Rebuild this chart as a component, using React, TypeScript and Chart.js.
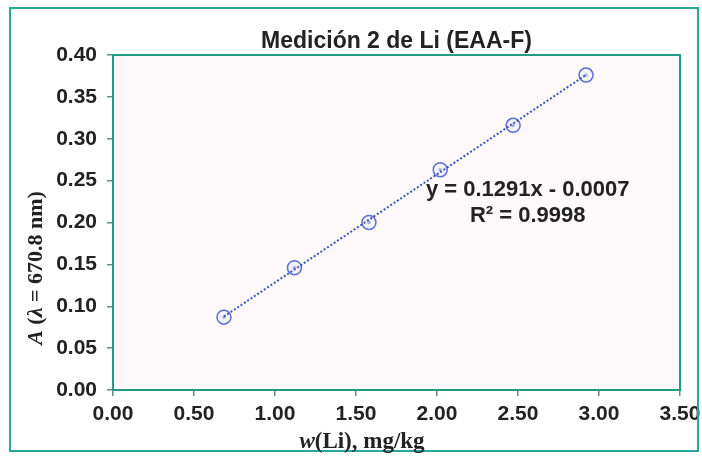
import React, { useEffect, useRef } from "react";
import { Chart, registerables } from "chart.js";

Chart.register(...registerables);

const concentrations = [0.685, 1.12, 1.58, 2.02, 2.47, 2.92];
const absorbances = [0.087, 0.146, 0.2, 0.263, 0.316, 0.376];
const slope = 0.1291;
const intercept = -0.0007;
const chartTitle = "Medición 2 de Li (EAA-F)";
const equationLines = ["y = 0.1291x - 0.0007", "R² = 0.9998"];

const teal = "#1f9c84";
const tickFont = { family: "'Liberation Sans', Arial, sans-serif", size: 21, weight: "bold" as const };

const decorPlugin = {
  id: "decor",
  beforeDraw(chart: any) {
    const { ctx, chartArea: a } = chart;
    ctx.save();
    ctx.fillStyle = "#ffffff";
    ctx.fillRect(0, 0, chart.width, chart.height);
    ctx.fillStyle = "#fdf8fa";
    ctx.fillRect(a.left, a.top, a.right - a.left, a.bottom - a.top);
    ctx.restore();
  },
  afterDraw(chart: any) {
    const { ctx, chartArea: a, scales } = chart;
    ctx.save();
    // outer frame
    ctx.strokeStyle = "#27a898";
    ctx.lineWidth = 2;
    ctx.strokeRect(10, 8, 688, 443);
    // plot box
    ctx.strokeStyle = teal;
    ctx.lineWidth = 2;
    ctx.strokeRect(a.left, a.top, a.right - a.left, a.bottom - a.top);
    // title
    ctx.fillStyle = "#222";
    ctx.textAlign = "center";
    ctx.textBaseline = "alphabetic";
    ctx.font = "bold 23px 'Liberation Sans', Arial, sans-serif";
    ctx.fillText(chartTitle, (a.left + a.right) / 2, 48);
    // equation
    const ex = scales.x.getPixelForValue(2.56);
    const ey = scales.y.getPixelForValue(0.2);
    ctx.font = "bold 22px 'Liberation Sans', Arial, sans-serif";
    ctx.fillText(equationLines[0], ex, ey - 27);
    ctx.fillText(equationLines[1], ex, ey - 1);
    // x axis title with italic w
    ctx.textAlign = "left";
    const xParts = [
      { t: "w", f: "italic bold 23px 'Liberation Serif', 'Times New Roman', serif" },
      { t: "(Li), mg/kg", f: "bold 23px 'Liberation Serif', 'Times New Roman', serif" },
    ];
    let total = 0;
    xParts.forEach((p) => { ctx.font = p.f; total += ctx.measureText(p.t).width; });
    let x = 362 - total / 2;
    xParts.forEach((p) => { ctx.font = p.f; ctx.fillText(p.t, x, 448); x += ctx.measureText(p.t).width; });
    // y axis title rotated
    ctx.translate(42, 268);
    ctx.rotate(-Math.PI / 2);
    const yParts = [
      { t: "A", f: "italic bold 22px 'Liberation Serif', 'Times New Roman', serif" },
      { t: " (", f: "bold 22px 'Liberation Serif', 'Times New Roman', serif" },
      { t: "λ", f: "italic bold 22px 'Liberation Serif', 'Times New Roman', serif" },
      { t: " = 670.8 nm)", f: "bold 22px 'Liberation Serif', 'Times New Roman', serif" },
    ];
    total = 0;
    yParts.forEach((p) => { ctx.font = p.f; total += ctx.measureText(p.t).width; });
    x = -total / 2;
    yParts.forEach((p) => { ctx.font = p.f; ctx.fillText(p.t, x, 0); x += ctx.measureText(p.t).width; });
    ctx.restore();
  },
};

export default function App() {
  const ref = useRef<HTMLCanvasElement | null>(null);
  useEffect(() => {
    if (!ref.current) return;
    const points = concentrations.map((c, i) => ({ x: c, y: absorbances[i] }));
    const x0 = concentrations[0];
    const x1 = concentrations[concentrations.length - 1];
    const trend = [
      { x: x0, y: slope * x0 + intercept },
      { x: x1, y: slope * x1 + intercept },
    ];
    const chart = new Chart(ref.current, {
      type: "scatter",
      data: {
        datasets: [
          {
            type: "line",
            data: trend,
            borderColor: "#3a55b8",
            borderWidth: 2,
            borderDash: [2, 2],
            pointRadius: 0,
            fill: false,
          } as any,
          {
            data: points,
            pointRadius: 7,
            pointBorderWidth: 1.5,
            pointBorderColor: "#5a6fd0",
            pointBackgroundColor: "rgba(235,238,255,0.6)",
          },
          {
            data: points,
            pointRadius: 1.8,
            pointBorderWidth: 0,
            pointBackgroundColor: "#3a4fb0",
          },
        ],
      },
      options: {
        animation: false,
        responsive: false,
        layout: { padding: { top: 55, right: 22, bottom: 0, left: 0 } },
        plugins: { legend: { display: false }, tooltip: { enabled: false }, title: { display: false } },
        scales: {
          x: {
            type: "linear",
            min: 0,
            max: 3.5,
            afterFit: (s: any) => { s.height = 67; s.paddingLeft = 0; s.paddingRight = 0; },
            ticks: {
              stepSize: 0.5,
              color: "#222",
              font: tickFont,
              padding: 6,
              maxRotation: 0,
              callback: (v: any) => Number(v).toFixed(2),
            },
            grid: { drawOnChartArea: false, drawTicks: true, tickLength: 6, color: "#6a8a84", lineWidth: 1.5 },
            border: { display: true, color: teal, width: 2 },
          },
          y: {
            type: "linear",
            min: 0,
            max: 0.4,
            afterFit: (s: any) => { s.width = 113; s.paddingTop = 0; s.paddingBottom = 0; },
            ticks: {
              stepSize: 0.05,
              color: "#222",
              font: tickFont,
              padding: 10,
              callback: (v: any) => Number(v).toFixed(2),
            },
            grid: { drawOnChartArea: false, drawTicks: true, tickLength: 6, color: "#6a8a84", lineWidth: 1.5 },
            border: { display: true, color: teal, width: 2 },
          },
        },
      },
      plugins: [decorPlugin],
    });
    return () => chart.destroy();
  }, []);
  return (
    <div style={{ position: "fixed", left: 0, top: 0, width: 702, height: 457 }}>
      <canvas ref={ref} width={702} height={457} style={{ width: 702, height: 457 }} />
    </div>
  );
}
